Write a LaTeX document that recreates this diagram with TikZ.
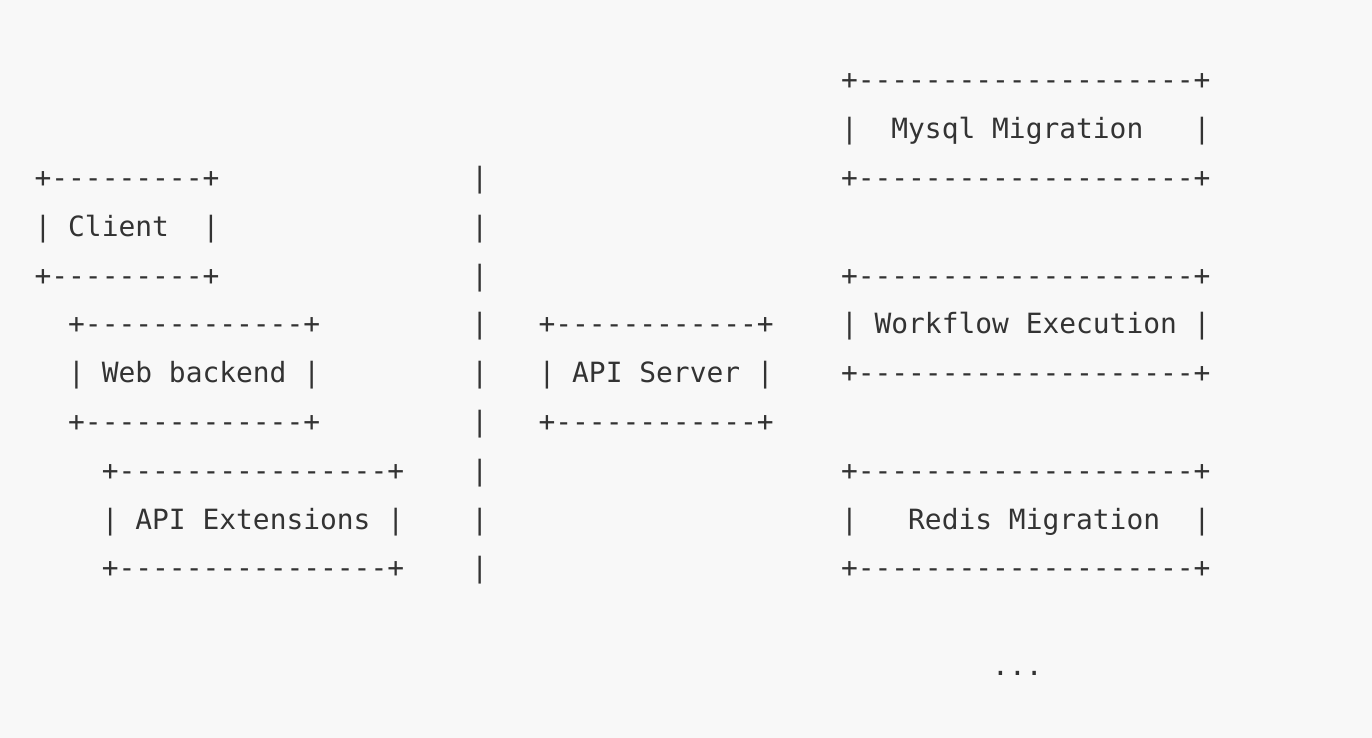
\documentclass[tikz,border=0pt]{standalone}
\usepackage{fontspec}
\setmonofont{DejaVu Sans Mono}
\definecolor{bg}{HTML}{F8F8F8}
\definecolor{txt}{HTML}{333333}
\begin{document}
\begin{tikzpicture}[ascii/.style={anchor=base west,inner sep=0pt,outer sep=0pt,text=txt,font=\ttfamily\fontsize{13.95pt}{16pt}\selectfont}]
\fill[bg] (0,0) rectangle (686pt,369pt);
\begin{scope}[shift={(17.3pt,324pt)},x=8.4pt,y=-24.4pt]
\node[ascii] (mysqltop) at (48,0) {+--------------------+};
\node[ascii] (mysql) at (48,1) {|~~Mysql Migration~~~|};
\node[ascii] (mysqlbot) at (48,2) {+--------------------+};

\node[ascii] (clienttop) at (0,2) {+---------+};
\node[ascii] (client) at (0,3) {| Client~~|};
\node[ascii] (clientbot) at (0,4) {+---------+};

\node[ascii] (webtop) at (2,5) {+-------------+};
\node[ascii] (web) at (2,6) {| Web backend |};
\node[ascii] (webbot) at (2,7) {+-------------+};

\node[ascii] (exttop) at (4,8) {+----------------+};
\node[ascii] (ext) at (4,9) {| API Extensions |};
\node[ascii] (extbot) at (4,10) {+----------------+};

\foreach \r in {2,...,10} \node[ascii] (bar\r) at (26,\r) {|};

\node[ascii] (apitop) at (30,5) {+------------+};
\node[ascii] (api) at (30,6) {| API Server |};
\node[ascii] (apibot) at (30,7) {+------------+};

\node[ascii] (flowtop) at (48,4) {+--------------------+};
\node[ascii] (flow) at (48,5) {| Workflow Execution |};
\node[ascii] (flowbot) at (48,6) {+--------------------+};

\node[ascii] (redistop) at (48,8) {+--------------------+};
\node[ascii] (redis) at (48,9) {|~~~Redis Migration~~|};
\node[ascii] (redisbot) at (48,10) {+--------------------+};

\node[ascii] (dots) at (57,12) {...};
\end{scope}
\end{tikzpicture}
\end{document}
